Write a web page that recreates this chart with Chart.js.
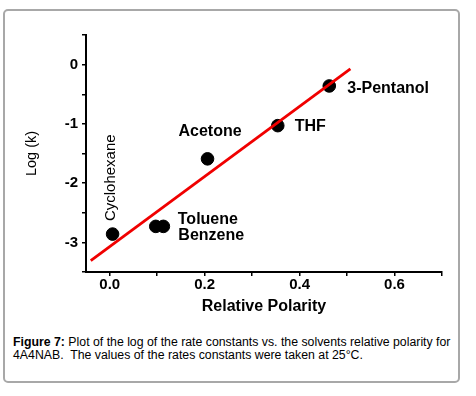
<!DOCTYPE html>
<html>
<head>
<meta charset="utf-8">
<script src="https://cdn.jsdelivr.net/npm/chart.js@4"></script>
<style>
  body { margin: 0; background: #fff; width: 476px; height: 396px; position: relative; overflow: hidden; }
  .frame { position: absolute; left: 3px; top: 9px; width: 453px; height: 370px; border: 2px solid #a8a8a8; border-radius: 5px; }
  #chart { position: absolute; left: 0; top: 0; }
  .caption { position: absolute; left: 13px; top: 336px; width: 450px; font: 12.3px "Liberation Sans", Arial, sans-serif; line-height: 13px; color: #000; white-space: nowrap; }
  .caption b { font-weight: bold; }
</style>
</head>
<body>
<div class="frame"></div>
<canvas id="chart" width="476" height="330"></canvas>
<div class="caption"><b>Figure 7:</b> Plot of the log of the rate constants vs. the solvents relative polarity for<br>4A4NAB.&nbsp; The values of the rates constants were taken at 25°C.</div>
<script>
const solvents = ['Cyclohexane', 'Toluene', 'Benzene', 'Acetone', 'THF', '3-Pentanol'];
const polarity = [0.006, 0.097, 0.113, 0.206, 0.354, 0.4625];
const logK = [-2.86, -2.73, -2.73, -1.59, -1.03, -0.36];

// Red fit line (end points)
const fitX = [-0.04, 0.507];
const fitY = [-3.31, -0.07];

// Axis ticks
const xTickValues = [0, 0.1, 0.2, 0.3, 0.4, 0.5, 0.6, 0.7];
const xTickLabels = ['0.0', '', '0.2', '', '0.4', '', '0.6', ''];
const yTickValues = [-3.5, -3, -2.5, -2, -1.5, -1, -0.5, 0, 0.5];
const yTickLabels = ['', '-3', '', '-2', '', '-1', '', '0', ''];

const FONT = '"Liberation Sans", Arial, sans-serif';

// where each solvent name sits relative to its point (px)
const labelPlacement = {
  'Cyclohexane': { dx: -1.5, dy: -13, rotate: true },
  'Toluene': { dx: 22, dy: -7 },
  'Benzene': { dx: 15, dy: 9 },
  'Acetone': { dx: -29, dy: -27 },
  'THF': { dx: 17, dy: 0.5 },
  '3-Pentanol': { dx: 18, dy: 3 }
};

const pointLabels = {
  id: 'pointLabels',
  afterDatasetsDraw(chart) {
    const ctx = chart.ctx;
    const xs = chart.scales.x, ys = chart.scales.y;
    ctx.save();
    ctx.fillStyle = '#000';
    ctx.textBaseline = 'middle';
    ctx.textAlign = 'left';
    solvents.forEach((name, i) => {
      const p = labelPlacement[name];
      const px = xs.getPixelForValue(polarity[i]) + p.dx;
      const py = ys.getPixelForValue(logK[i]) + p.dy;
      if (p.rotate) {
        ctx.save();
        ctx.font = '15px ' + FONT;
        ctx.translate(px, py);
        ctx.rotate(-Math.PI / 2);
        ctx.fillText(name, 0, 0);
        ctx.restore();
      } else {
        ctx.font = 'bold 16px ' + FONT;
        ctx.fillText(name, px, py);
      }
    });
    ctx.restore();
  }
};

new Chart(document.getElementById('chart'), {
  type: 'scatter',
  data: {
    datasets: [
      {
        type: 'line',
        data: fitX.map((x, i) => ({ x: x, y: fitY[i] })),
        borderColor: '#f00000',
        borderWidth: 2.8,
        pointRadius: 0,
        fill: false,
        order: 0
      },
      {
        data: polarity.map((x, i) => ({ x: x, y: logK[i] })),
        backgroundColor: '#000',
        borderColor: '#000',
        pointRadius: 6.3,
        order: 1
      }
    ]
  },
  plugins: [pointLabels],
  options: {
    responsive: false,
    animation: false,
    layout: { padding: { top: 35, right: 34, left: 0, bottom: 0 } },
    plugins: { legend: { display: false }, tooltip: { enabled: false } },
    scales: {
      x: {
        type: 'linear',
        min: -0.05,
        max: 0.7,
        afterBuildTicks: (scale) => { scale.ticks = xTickValues.map(v => ({ value: v })); },
        afterFit: (scale) => { scale.height = 58; },
        ticks: {
          callback: (v, i) => xTickLabels[i],
          color: '#000',
          font: { family: FONT, size: 15, weight: 'bold' },
          padding: 0,
          maxRotation: 0,
          autoSkip: false
        },
        grid: { drawOnChartArea: false, drawTicks: true, tickLength: 4, color: '#000', lineWidth: 1.5 },
        border: { display: true, color: '#000', width: 2 },
        title: {
          display: true,
          text: 'Relative Polarity',
          color: '#000',
          font: { family: FONT, size: 16, weight: 'bold' },
          padding: { top: 0, bottom: 13.7 }
        }
      },
      y: {
        type: 'linear',
        min: -3.5,
        max: 0.5,
        afterBuildTicks: (scale) => { scale.ticks = yTickValues.map(v => ({ value: v })); },
        afterFit: (scale) => { scale.width = 86; },
        ticks: {
          callback: (v, i) => yTickLabels[i],
          color: '#000',
          font: { family: FONT, size: 15, weight: 'bold' },
          padding: 4,
          autoSkip: false
        },
        grid: { drawOnChartArea: false, drawTicks: true, tickLength: 4, color: '#000', lineWidth: 1.5 },
        border: { display: true, color: '#000', width: 2 },
        title: {
          display: true,
          text: 'Log (k)',
          color: '#000',
          font: { family: FONT, size: 14.5, weight: 'normal' },
          padding: { top: 23, bottom: 0 }
        }
      }
    }
  }
});
</script>
</body>
</html>
